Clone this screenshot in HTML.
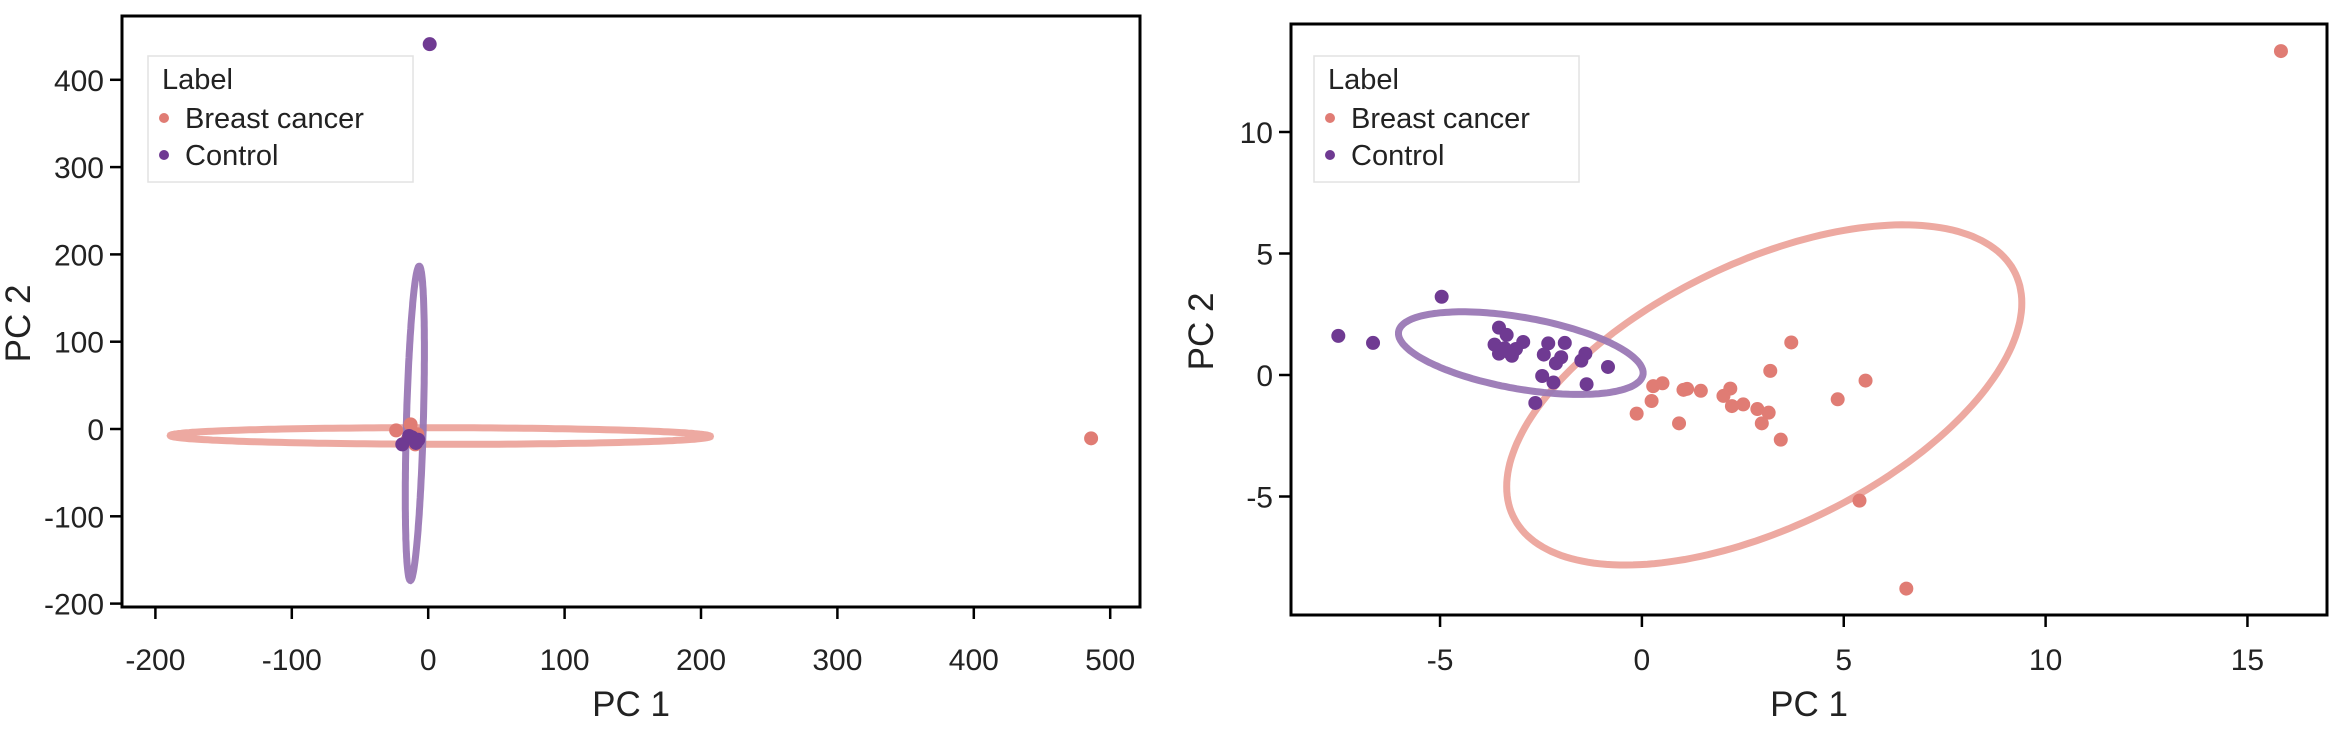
<!DOCTYPE html>
<html><head><meta charset="utf-8"><style>
body{margin:0;background:#fff;}
svg{display:block;font-family:"Liberation Sans",Arial,sans-serif;}
</style></head><body>
<svg id="chart" width="2344" height="730" xmlns="http://www.w3.org/2000/svg"></svg>
<script>
// Left panel data
const leftCancerX = [486, -23.5, -12.9, -9.5, -15, -8];
const leftCancerY = [-10.7, -1.6, 5.3, -17.6, -12, -6];
const leftControlX = [1.1, -19, -11.8, -7.3, -14, -9];
const leftControlY = [440.8, -17.6, -9.6, -12.3, -8, -16];
const leftXTicks = [-200, -100, 0, 100, 200, 300, 400, 500];
const leftYTicks = [-200, -100, 0, 100, 200, 300, 400];
// Right panel data
const rightCancerX = [15.83, 3.70, 3.18, 5.54, 4.85, 0.28, 0.51, 0.24, -0.13, 1.03, 1.46, 0.92, 2.19, 2.02, 2.23, 2.51, 2.86, 3.14, 2.97, 3.44, 5.39, 6.55, 1.12];
const rightCancerY = [13.33, 1.34, 0.17, -0.23, -1.00, -0.46, -0.34, -1.07, -1.59, -0.61, -0.65, -1.99, -0.56, -0.86, -1.28, -1.21, -1.40, -1.55, -1.99, -2.66, -5.17, -8.79, -0.57];
const rightControlX = [-7.52, -6.66, -4.96, -3.54, -3.35, -3.65, -3.54, -3.22, -3.12, -2.94, -2.32, -1.91, -2.43, -2.00, -2.13, -1.40, -1.50, -0.84, -2.47, -2.19, -1.37, -2.64, -3.4, -3.3];
const rightControlY = [1.61, 1.32, 3.22, 1.95, 1.65, 1.25, 0.88, 0.79, 1.07, 1.36, 1.30, 1.32, 0.84, 0.73, 0.48, 0.88, 0.59, 0.33, -0.04, -0.31, -0.38, -1.15, 1.1, 0.95];
const rightXTicks = [-5, 0, 5, 10, 15];
const rightYTicks = [-5, 0, 5, 10];
// Ellipses: [cx, cy, ax, ay, phase]
const leftCancerEllipse = [8.9, -8, 198, 9.5, 1.62];
const leftControlEllipse = [-9.8, 6.5, 7, 180, 1.09];
const rightCancerEllipse = [3.03, -0.82, 6.38, 7.0, 1.0];
const rightControlEllipse = [-3.0, 0.9, 3.03, 1.7, 2.07];

const NS = "http://www.w3.org/2000/svg";
const svg = document.getElementById("chart");
const PINK = "#e07c74", PURPLE = "#6f3a92", EPINK = "#eca49c", EPURPLE = "#9a78b5";
function mk(tag, attrs, parent){const e=document.createElementNS(NS,tag);for(const k in attrs)e.setAttribute(k,attrs[k]);(parent||svg).appendChild(e);return e;}

function panel(cfg){
  const g = mk("g",{});
  
  
  const sx = v => cfg.x0 + v*cfg.kx;
  const sy = v => cfg.y0 - v*cfg.ky;
  [[cfg.ce, EPINK, 'cancer-ellipse'], [cfg.oe, EPURPLE, 'control-ellipse']].forEach(([e,col,nm])=>{
    let d="";
    for(let i=0;i<=200;i++){const t=i/200*2*Math.PI;
      const x=e[0]+e[2]*Math.cos(t), y=e[1]+e[3]*Math.cos(t-e[4]);
      d+=(i?"L":"M")+sx(x).toFixed(1)+","+sy(y).toFixed(1);}
    const p=mk("path",{d:d+"Z",fill:"none",stroke:col,"stroke-width":7,"stroke-opacity":0.95},g);
    
    
  });
  cfg.cX.forEach((v,i)=>{const c=mk("circle",{cx:sx(v),cy:sy(cfg.cY[i]),r:7,fill:PINK},g);
    
    });
  cfg.oX.forEach((v,i)=>{const c=mk("circle",{cx:sx(v),cy:sy(cfg.oY[i]),r:7,fill:PURPLE},g);
    
    });
  const f=mk("rect",{x:cfg.L,y:cfg.T,width:cfg.R-cfg.L,height:cfg.B-cfg.T,fill:"none",stroke:"#000","stroke-width":3},g);
  
  
  cfg.xt.forEach(v=>{const x=sx(v);
    mk("line",{x1:x,x2:x,y1:cfg.B,y2:cfg.B+12,stroke:"#000","stroke-width":2.5},g);
    const t=mk("text",{x:x,y:670,"text-anchor":"middle","font-size":30,fill:"#222"},g);t.textContent=v;
    
    });
  cfg.yt.forEach(v=>{const y=sy(v);
    mk("line",{x1:cfg.L-12,x2:cfg.L,y1:y,y2:y,stroke:"#000","stroke-width":2.5},g);
    const t=mk("text",{x:cfg.L-18,y:y+11,"text-anchor":"end","font-size":30,fill:"#222"},g);t.textContent=v;
    
    });
  const xl=mk("text",{x:(cfg.L+cfg.R)/2,y:716,"text-anchor":"middle","font-size":35,fill:"#222"},g);xl.textContent="PC 1";
  
  
  const yl=mk("text",{x:0,y:0,"text-anchor":"middle","font-size":35,fill:"#222",transform:`translate(${cfg.ylx},${(cfg.T+cfg.B)/2+12}) rotate(-90)`},g);yl.textContent="PC 2";
  
  
  const lg=mk("g",{},g);
  
  
  mk("rect",{x:cfg.lgx,y:56,width:265,height:126,fill:"#fff",stroke:"#e2e2e2","stroke-width":1.5},lg);
  const lt=mk("text",{x:cfg.lgx+14,y:89,"font-size":29,fill:"#222"},lg);lt.textContent="Label";
  
  
  [["Breast cancer",PINK,128],["Control",PURPLE,165]].forEach(([s,c,y])=>{
    mk("circle",{cx:cfg.lgx+16,cy:y-10,r:5,fill:c},lg);
    const t=mk("text",{x:cfg.lgx+37,y:y,"font-size":29,fill:"#222"},lg);t.textContent=s;
    
    
  });
}
panel({name:"left-panel",L:122,R:1140,T:16,B:607,x0:428.2,kx:1.364,y0:429,ky:0.873,
  xt:leftXTicks,yt:leftYTicks,cX:leftCancerX,cY:leftCancerY,oX:leftControlX,oY:leftControlY,
  ce:leftCancerEllipse,oe:leftControlEllipse,ylx:30,lgx:148});
panel({name:"right-panel",L:1291,R:2327,T:24,B:615,x0:1641.9,kx:40.37,y0:375,ky:24.3,
  xt:rightXTicks,yt:rightYTicks,cX:rightCancerX,cY:rightCancerY,oX:rightControlX,oY:rightControlY,
  ce:rightCancerEllipse,oe:rightControlEllipse,ylx:1213,lgx:1314});
</script>
</body></html>
